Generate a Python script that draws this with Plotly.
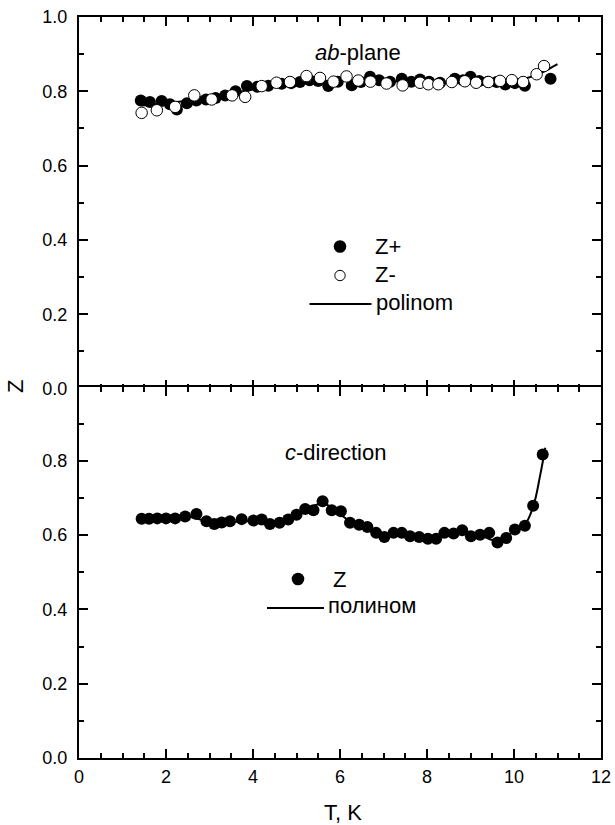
import plotly.graph_objects as go

# ---------------- data ----------------
# ab-plane, Z+ (filled circles)
ab_zp_T = [1.42, 1.63, 1.90, 2.09, 2.25, 2.48, 2.70, 2.92, 3.14, 3.36, 3.60, 3.86, 4.10, 4.35,
           4.66, 4.88, 5.08, 5.30, 5.50, 5.73, 5.95, 6.27, 6.48, 6.69, 6.90, 7.15, 7.42, 7.64,
           7.84, 8.05, 8.30, 8.64, 8.83, 9.00, 9.20, 9.40, 9.60, 9.80, 10.02, 10.25, 10.84]
ab_zp_Z = [0.775, 0.771, 0.774, 0.765, 0.751, 0.768, 0.775, 0.778, 0.782, 0.789, 0.800, 0.814,
           0.812, 0.815, 0.820, 0.822, 0.825, 0.830, 0.828, 0.814, 0.826, 0.816, 0.825, 0.839,
           0.830, 0.826, 0.834, 0.826, 0.832, 0.826, 0.823, 0.834, 0.830, 0.839, 0.828, 0.826,
           0.825, 0.818, 0.822, 0.815, 0.834]

# ab-plane, Z- (open circles)
ab_zm_T = [1.44, 1.79, 2.21, 2.65, 3.05, 3.52, 3.82, 4.20, 4.54, 4.85, 5.23, 5.54, 5.85, 6.15,
           6.42, 6.70, 7.07, 7.44, 7.84, 8.03, 8.26, 8.57, 8.87, 9.13, 9.41, 9.68, 9.95, 10.21,
           10.52, 10.69]
ab_zm_Z = [0.742, 0.749, 0.758, 0.789, 0.778, 0.789, 0.785, 0.814, 0.823, 0.825, 0.841, 0.836,
           0.826, 0.840, 0.829, 0.826, 0.821, 0.816, 0.823, 0.819, 0.819, 0.825, 0.827, 0.823,
           0.825, 0.828, 0.830, 0.825, 0.846, 0.868]

# ab-plane polynomial curve
ab_pol_T = [1.44, 2.0, 3.0, 4.0, 5.0, 6.0, 7.0, 8.0, 9.0, 9.8, 10.3, 10.6, 10.8, 11.0]
ab_pol_Z = [0.762, 0.768, 0.783, 0.805, 0.822, 0.830, 0.828, 0.824, 0.824, 0.828, 0.836,
            0.848, 0.860, 0.873]

# c-direction, Z
c_T = [1.44, 1.61, 1.80, 2.00, 2.21, 2.44, 2.70, 2.93, 3.11, 3.28, 3.47, 3.74, 4.01, 4.20,
       4.39, 4.61, 4.81, 5.00, 5.20, 5.39, 5.60, 5.81, 6.02, 6.23, 6.44, 6.63, 6.83, 7.02,
       7.23, 7.42, 7.61, 7.82, 8.02, 8.21, 8.40, 8.61, 8.81, 9.01, 9.22, 9.43, 9.62, 9.82,
       10.02, 10.25, 10.44, 10.66]
c_Z = [0.644, 0.644, 0.645, 0.645, 0.645, 0.650, 0.657, 0.637, 0.630, 0.634, 0.637, 0.643,
       0.639, 0.642, 0.630, 0.633, 0.642, 0.655, 0.670, 0.667, 0.691, 0.667, 0.664, 0.633,
       0.628, 0.622, 0.606, 0.595, 0.606, 0.606, 0.597, 0.595, 0.590, 0.590, 0.606, 0.604,
       0.613, 0.597, 0.601, 0.606, 0.580, 0.592, 0.615, 0.625, 0.679, 0.817]

# c-direction polynomial curve
c_pol_T = [1.44, 2.0, 2.6, 3.0, 4.0, 4.6, 5.0, 5.6, 6.2, 6.8, 7.4, 8.0, 8.6, 9.2, 9.6, 10.0,
           10.25, 10.45, 10.6, 10.72]
c_pol_Z = [0.645, 0.646, 0.648, 0.635, 0.638, 0.633, 0.652, 0.685, 0.640, 0.610, 0.598, 0.592,
           0.603, 0.600, 0.585, 0.610, 0.628, 0.680, 0.760, 0.835]

x_ticks = [0, 2, 4, 6, 8, 10, 12]
y_ticks = [0.0, 0.2, 0.4, 0.6, 0.8, 1.0]
y_top_labels = ["0.0", "0.2", "0.4", "0.6", "0.8", "1.0"]
y_bot_labels = ["0.0", "0.2", "0.4", "0.6", "0.8", ""]

# ---------------- figure ----------------
FONT = "Liberation Sans, Arial, sans-serif"
W, H = 615, 825
ML, MR, MT, MB = 79, 14, 17, 67
PW, PH = W - ML - MR, H - MT - MB
OV = 1.0 / PH  # one-pixel overlap so the shared middle border is a single line


def px(xp):
    return (xp - ML) / PW


def py(yp):
    return (H - MB - yp) / PH


fig = go.Figure()

fig.add_trace(go.Scatter(x=ab_pol_T, y=ab_pol_Z, mode="lines", line=dict(color="black", width=2, shape="spline"),
                         xaxis="x", yaxis="y", showlegend=False))
fig.add_trace(go.Scatter(x=ab_zp_T, y=ab_zp_Z, mode="markers",
                         marker=dict(symbol="circle", size=12, color="black", line=dict(width=0)),
                         xaxis="x", yaxis="y", showlegend=False))
fig.add_trace(go.Scatter(x=ab_zm_T, y=ab_zm_Z, mode="markers",
                         marker=dict(symbol="circle", size=11.5, color="white", line=dict(width=1, color="black")),
                         xaxis="x", yaxis="y", showlegend=False))

fig.add_trace(go.Scatter(x=c_pol_T, y=c_pol_Z, mode="lines", line=dict(color="black", width=2, shape="spline"),
                         xaxis="x2", yaxis="y2", showlegend=False))
fig.add_trace(go.Scatter(x=c_T, y=c_Z, mode="markers",
                         marker=dict(symbol="circle", size=12, color="black", line=dict(width=0)),
                         xaxis="x2", yaxis="y2", showlegend=False))

axis_common = dict(showline=True, linewidth=2, linecolor="black", mirror="ticks",
                   ticks="inside", ticklen=9, tickwidth=1.5, tickcolor="black",
                   showgrid=False, zeroline=False, automargin=False,
                   tickfont=dict(family=FONT, size=18, color="black"))

fig.update_layout(
    width=W, height=H,
    margin=dict(l=ML, r=MR, t=MT, b=MB, autoexpand=False),
    paper_bgcolor="white", plot_bgcolor="white",
    showlegend=False,
    xaxis=dict(domain=[0, 1], anchor="y", range=[0, 12], tickvals=x_ticks, showticklabels=False,
               minor=dict(tickmode="linear", tick0=0, dtick=0.5, ticks="inside", ticklen=5,
                          tickwidth=1.5, tickcolor="black", showgrid=False),
               **axis_common),
    yaxis=dict(domain=[0.5 - OV, 1], anchor="x", range=[0, 1], tickvals=y_ticks, ticktext=y_top_labels,
               ticklabelstandoff=6,
               minor=dict(tickmode="linear", tick0=0, dtick=0.1, ticks="inside", ticklen=5,
                          tickwidth=1.5, tickcolor="black", showgrid=False),
               **axis_common),
    xaxis2=dict(domain=[0, 1], anchor="y2", range=[0, 12], tickvals=x_ticks,
                ticktext=[str(v) for v in x_ticks], ticklabelstandoff=1,
                minor=dict(tickmode="linear", tick0=0, dtick=0.5, ticks="inside", ticklen=5,
                           tickwidth=1.5, tickcolor="black", showgrid=False),
                **axis_common),
    yaxis2=dict(domain=[0, 0.5 + OV], anchor="x2", range=[0, 1], tickvals=y_ticks, ticktext=y_bot_labels,
                ticklabelstandoff=6,
                minor=dict(tickmode="linear", tick0=0, dtick=0.1, ticks="inside", ticklen=5,
                           tickwidth=1.5, tickcolor="black", showgrid=False),
                **axis_common),
)

txt = dict(family=FONT, size=22, color="black")

annotations = [
    dict(text="<i>ab</i>-plane", x=px(358), y=py(52), xanchor="center", yanchor="middle"),
    dict(text="<i>c</i>-direction", x=px(335), y=py(452), xanchor="center", yanchor="middle"),
    dict(text="Z+", x=px(373), y=py(246), xanchor="left", yanchor="middle"),
    dict(text="Z-", x=px(373), y=py(275), xanchor="left", yanchor="middle"),
    dict(text="polinom", x=px(374), y=py(302), xanchor="left", yanchor="middle"),
    dict(text="Z", x=px(331), y=py(579), xanchor="left", yanchor="middle"),
    dict(text="полином", x=px(326), y=py(605), xanchor="left", yanchor="middle"),
    dict(text="T, K", x=px(343), y=py(812), xanchor="center", yanchor="middle",
         font=dict(family=FONT, size=22, color="black")),
    dict(text="Z", x=px(15), y=py(387), xanchor="center", yanchor="middle", textangle=-90,
         font=dict(family=FONT, size=22, color="black")),
]
for a in annotations:
    a.setdefault("font", txt)
    a.update(xref="paper", yref="paper", showarrow=False)
fig.update_layout(annotations=annotations)


def dot(cx, cy, r, fill, lw):
    return dict(type="circle", xref="paper", yref="paper", xsizemode="pixel", ysizemode="pixel",
                xanchor=px(cx), yanchor=py(cy), x0=-r, x1=r, y0=-r, y1=r,
                fillcolor=fill, line=dict(color="black", width=lw))


shapes = [
    dot(340, 246.5, 6.3, "black", 0),
    dot(340, 275.5, 5.2, "white", 1),
    dict(type="line", xref="paper", yref="paper", x0=px(309.5), x1=px(371.5), y0=py(304), y1=py(304),
         line=dict(color="black", width=2)),
    dot(298, 579, 6.3, "black", 0),
    dict(type="line", xref="paper", yref="paper", x0=px(267), x1=px(324), y0=py(608), y1=py(608),
         line=dict(color="black", width=2)),
]
fig.update_layout(shapes=shapes)

fig.write_html("out.html", config={"displayModeBar": False},
               post_script="document.body.style.margin='0';document.body.style.padding='0';")
